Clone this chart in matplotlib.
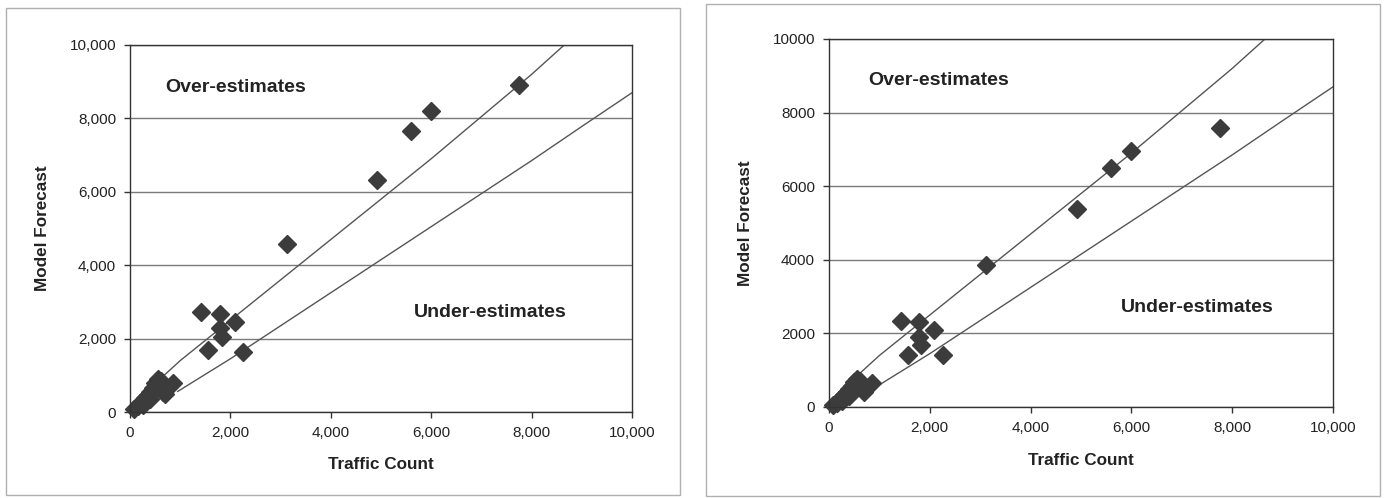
import matplotlib
matplotlib.use("Agg")
import matplotlib.pyplot as plt
from matplotlib.patches import Rectangle
from matplotlib.ticker import FuncFormatter

plt.rcParams['font.family'] = ['Liberation Sans', 'DejaVu Sans']

# traffic counts (same sites in both panels)
traffic_count = [7750, 6000, 5600, 4920, 3120, 1420, 1790, 2090, 1790, 1830, 1560, 2260,
                 80, 150, 200, 260, 300, 350, 400, 450, 500, 560, 620, 580, 650, 700, 850, 400, 250]
# model forecasts, left chart
forecast_left = [8900, 8200, 7650, 6330, 4570, 2730, 2680, 2450, 2280, 2050, 1680, 1640,
                 80, 150, 250, 300, 380, 450, 550, 650, 800, 900, 850, 650, 550, 480, 780, 350, 180]
# model forecasts, right chart
forecast_right = [7580, 6960, 6490, 5370, 3860, 2330, 2310, 2090, 1910, 1690, 1410, 1410,
                  60, 120, 200, 260, 330, 400, 480, 570, 680, 760, 720, 560, 480, 400, 650, 300, 150]

# guide curves
upper_x = [600, 1000, 2000, 3000, 4000, 5000, 6000, 7000, 8000, 8650]
upper_y = [900, 1400, 2500, 3600, 4700, 5800, 6900, 8050, 9200, 10000]
lower_x = [950, 2000, 3000, 4000, 5000, 6000, 7000, 8000, 9000, 10000]
lower_y = [560, 1450, 2350, 3250, 4150, 5050, 5950, 6850, 7780, 8700]

ticks = [0, 2000, 4000, 6000, 8000, 10000]

fig = plt.figure(figsize=(13.85, 4.98), dpi=100)

# panel frames
fig.add_artist(Rectangle((6 / 1385, 3 / 498), 674 / 1385, 487 / 498, transform=fig.transFigure,
                         fill=False, ec='#b0b0b0', lw=1))
fig.add_artist(Rectangle((706 / 1385, 2 / 498), 674 / 1385, 492 / 498, transform=fig.transFigure,
                         fill=False, ec='#b0b0b0', lw=1))

comma = FuncFormatter(lambda v, p: '{:,.0f}'.format(v))
plain = FuncFormatter(lambda v, p: '{:.0f}'.format(v))


def draw(ax, y, yfmt, over_xy, under_xy, xlabelpad):
    ax.set_xlim(0, 10000)
    ax.set_ylim(0, 10000)
    ax.set_xticks(ticks)
    ax.set_yticks(ticks)
    ax.xaxis.set_major_formatter(comma)
    ax.yaxis.set_major_formatter(yfmt)
    ax.grid(axis='y', color='#7a7a7a', lw=1)
    ax.set_axisbelow(True)
    for s in ax.spines.values():
        s.set_color('#333333')
        s.set_linewidth(1)
    ax.tick_params(length=4, width=1, color='#333333', labelsize=11, labelcolor='#222222', pad=6)
    ax.plot(upper_x, upper_y, color='#555555', lw=1)
    ax.plot(lower_x, lower_y, color='#555555', lw=1)
    ax.plot(traffic_count, y, 'D', color='#3c3c3c', ms=9, mec='#3c3c3c', clip_on=False)
    ax.text(over_xy[0], over_xy[1], 'Over-estimates', fontsize=14, fontweight='bold',
            color='#222222', va='center')
    ax.text(under_xy[0], under_xy[1], 'Under-estimates', fontsize=14, fontweight='bold',
            color='#222222', va='center')
    ax.set_xlabel('Traffic Count', fontsize=12.3, fontweight='bold', color='#222222', labelpad=xlabelpad)
    ax.set_ylabel('Model Forecast', fontsize=12.3, fontweight='bold', color='#222222', labelpad=14)


ax1 = fig.add_axes([130 / 1385, 1 - 412 / 498, 502 / 1385, 367 / 498])
draw(ax1, forecast_left, comma, (700, 8850), (5650, 2700), 12)

ax2 = fig.add_axes([829 / 1385, 1 - 407 / 498, 504 / 1385, 368 / 498])
draw(ax2, forecast_right, plain, (770, 8880), (5800, 2700), 13)

plt.savefig('out.png', dpi=100)
